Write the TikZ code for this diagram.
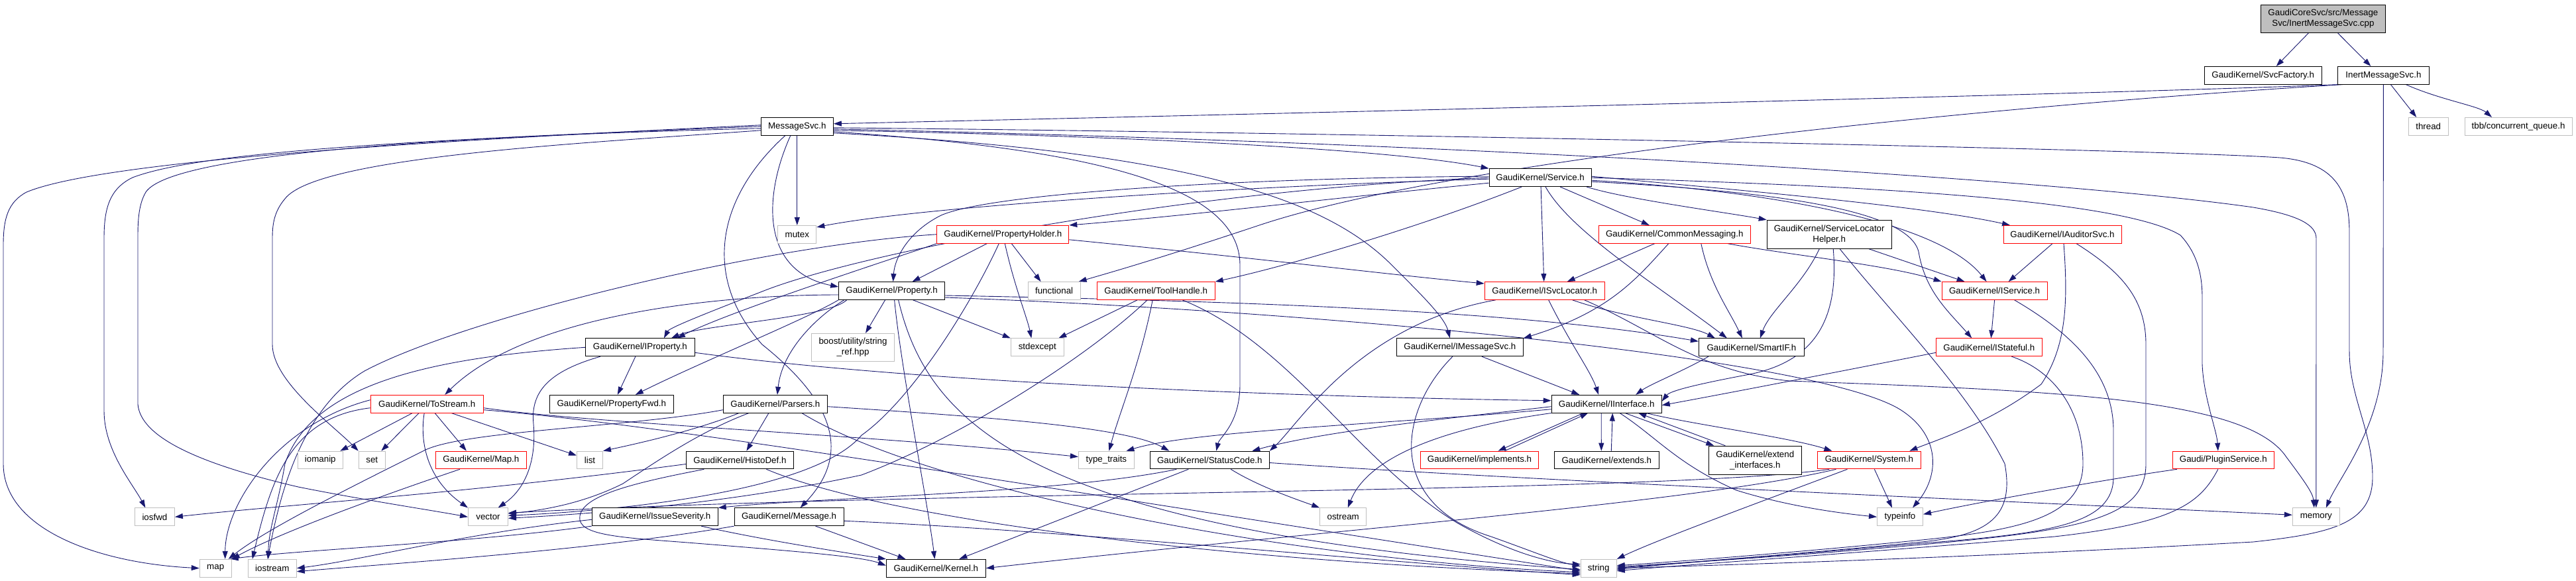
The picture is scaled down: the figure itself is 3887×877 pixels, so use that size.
\documentclass[tikz,border=0pt]{standalone}
\usepackage{fontspec}
\newfontfamily\gfont{Liberation Sans}
\usetikzlibrary{arrows.meta}
\pgfdeclarelayer{bg}
\pgfsetlayers{bg,main}
\definecolor{edgec}{HTML}{191970}
\definecolor{boxgray}{HTML}{BFBFBF}
\definecolor{boxred}{HTML}{FF0000}
\begin{document}
\begin{tikzpicture}[x=1pt,y=-1pt,
 nb/.style={rectangle, draw=black, line width=1pt, inner sep=0pt, minimum height=26.7pt, align=center, fill=white, font=\gfont\fontsize{13.33}{16}\selectfont},
 nr/.style={nb, draw=boxred},
 ng/.style={nb, draw=boxgray},
 ed/.style={draw=edgec, line width=0.9pt, -{Triangle[length=12pt,width=8pt]}}]
\path[use as bounding box] (0,0) rectangle (3887,877);
% nodes
\node[nb, fill=boxgray, minimum width=188pt, minimum height=42pt] (root) at (3505.4,28.3) {GaudiCoreSvc/src/Message\\Svc/InertMessageSvc.cpp};
\node[nb, minimum width=177pt] (svcf) at (3414.7,113.8) {GaudiKernel/SvcFactory.h};
\node[nb, minimum width=138pt] (inert) at (3596.4,113.8) {InertMessageSvc.h};
\node[ng, minimum width=60pt] (thread) at (3664.2,190.8) {thread};
\node[ng, minimum width=162pt] (tbb) at (3800,190.8) {tbb/concurrent\_queue.h};
\node[nb, minimum width=109pt] (msgsvc) at (1202.8,190.8) {MessageSvc.h};
\node[ng, minimum width=58pt] (mutex) at (1202.8,353.8) {mutex};
\node[nb, minimum width=154pt] (service) at (2324.1,268.2) {GaudiKernel/Service.h};
\node[nr, minimum width=199pt] (propholder) at (1513.3,353.8) {GaudiKernel/PropertyHolder.h};
\node[nr, minimum width=229pt] (commsg) at (2526.8,353.8) {GaudiKernel/CommonMessaging.h};
\node[nb, minimum width=188pt, minimum height=43pt] (slh) at (2760.2,353.8) {GaudiKernel/ServiceLocator\\Helper.h};
\node[nr, minimum width=178pt] (iaud) at (3112,353.8) {GaudiKernel/IAuditorSvc.h};
\node[nb, minimum width=160pt] (property) at (1345.6,439) {GaudiKernel/Property.h};
\node[ng, minimum width=79pt] (functional) at (1590.6,439) {functional};
\node[nr, minimum width=178pt] (toolhandle) at (1744.2,439) {GaudiKernel/ToolHandle.h};
\node[nr, minimum width=181pt] (isvcloc) at (2330.7,439) {GaudiKernel/ISvcLocator.h};
\node[nr, minimum width=159pt] (iservice) at (3009.6,439) {GaudiKernel/IService.h};
\node[nb, minimum width=165pt] (iproperty) at (965.9,524.3) {GaudiKernel/IProperty.h};
\node[ng, minimum width=125pt, minimum height=42pt] (boost) at (1287,524.3) {boost/utility/string\\\_ref.hpp};
\node[ng, minimum width=80pt] (stdexcept) at (1565.3,524.3) {stdexcept};
\node[nb, minimum width=191pt] (imsgsvc) at (2202.9,524.3) {GaudiKernel/IMessageSvc.h};
\node[nb, minimum width=159pt] (smartif) at (2642.9,524.3) {GaudiKernel/SmartIF.h};
\node[nr, minimum width=160pt] (istateful) at (3001.3,524.3) {GaudiKernel/IStateful.h};
\node[nr, minimum width=170pt] (tostream) at (644.2,609.7) {GaudiKernel/ToStream.h};
\node[nb, minimum width=187pt] (propfwd) at (922.8,609.7) {GaudiKernel/PropertyFwd.h};
\node[nb, minimum width=157pt] (parsers) at (1169.9,609.7) {GaudiKernel/Parsers.h};
\node[nb, minimum width=166pt] (iinterface) at (2424.2,609.7) {GaudiKernel/IInterface.h};
\node[ng, minimum width=68pt] (iomanip) at (483.3,694.5) {iomanip};
\node[ng, minimum width=40pt] (set) at (561.3,694.5) {set};
\node[nr, minimum width=137pt] (maph) at (725.9,694.5) {GaudiKernel/Map.h};
\node[ng, minimum width=39pt] (list) at (890,694.5) {list};
\node[nb, minimum width=162pt] (histodef) at (1116.4,694.5) {GaudiKernel/HistoDef.h};
\node[ng, minimum width=84pt] (typetraits) at (1669.4,694.5) {type\_traits};
\node[nb, minimum width=180pt] (statuscode) at (1825.3,694.5) {GaudiKernel/StatusCode.h};
\node[nr, minimum width=178pt] (implements) at (2232.5,694.5) {GaudiKernel/implements.h};
\node[nb, minimum width=158pt] (extends) at (2424.3,694.5) {GaudiKernel/extends.h};
\node[nb, minimum width=140pt, minimum height=43pt] (extif) at (2648.3,694.7) {GaudiKernel/extend\\\_interfaces.h};
\node[nr, minimum width=156pt] (system) at (2820.4,694.5) {GaudiKernel/System.h};
\node[nr, minimum width=153pt] (plugin) at (3354.8,694.5) {Gaudi/PluginService.h};
\node[ng, minimum width=60pt] (iosfwd) at (233.4,780.3) {iosfwd};
\node[ng, minimum width=60pt] (vector) at (736.5,780.3) {vector};
\node[nb, minimum width=190pt] (issev) at (988.2,780.3) {GaudiKernel/IssueSeverity.h};
\node[nb, minimum width=165pt] (message) at (1190.6,780.3) {GaudiKernel/Message.h};
\node[ng, minimum width=70pt] (ostream) at (2026.7,780.3) {ostream};
\node[ng, minimum width=69pt] (typeinfo) at (2867,780.3) {typeinfo};
\node[ng, minimum width=71pt] (memory) at (3494.8,780.3) {memory};
\node[ng, minimum width=48pt] (map) at (325.2,857.7) {map};
\node[ng, minimum width=73pt] (iostream) at (410.8,857.7) {iostream};
\node[nb, minimum width=150pt] (kernel) at (1412.4,857.7) {GaudiKernel/Kernel.h};
\node[ng, minimum width=54pt] (string) at (2412.2,857.7) {string};
\begin{pgfonlayer}{bg}
% root
\draw[ed] ([xshift=-22pt]root.south) -- ([xshift=20pt]svcf.north);
\draw[ed] ([xshift=22pt]root.south) -- ([xshift=-19pt]inert.north);
% inert
\draw[ed] (inert.south west) .. controls (3200,141) and (2000,170) .. ([yshift=4pt]msgsvc.east);
\draw[ed] ([xshift=11pt]inert.south) -- ([xshift=-18pt]thread.north);
\draw[ed] ([xshift=34pt]inert.south) .. controls (3680,150) and (3740,160) .. ([xshift=-40pt]tbb.north);
\draw[ed] (inert.south) -- (3596,530) .. controls (3596,640) and (3530,720) .. ([xshift=15pt]memory.north);
\draw[ed] ([xshift=8pt]inert.south west) .. controls (3000,160) and (2200,240) .. (1900,340) .. controls (1750,390) and (1680,410) .. ([xshift=-3pt]functional.north east);
% MessageSvc
\draw[ed] (msgsvc.south) -- (mutex.north);
\draw[ed] ([yshift=-6pt]msgsvc.east) .. controls (1700,205) and (2100,225) .. (service.north west);
\draw[ed] ([xshift=-10pt]msgsvc.south) .. controls (1150,300) and (1150,410) .. ([yshift=6pt]property.west);
\draw[ed] ([yshift=-10pt]msgsvc.east) .. controls (1800,230) and (2000,300) .. (2100,400) .. controls (2150,450) and (2180,480) .. ([xshift=-15pt]imsgsvc.north);
\draw[ed] ([yshift=-8pt]msgsvc.east) .. controls (1650,225) and (1871,280) .. (1871,400) -- (1871,580) .. controls (1871,640) and (1840,660) .. ([xshift=10pt]statuscode.north);
\draw[ed] ([xshift=-18pt]msgsvc.south) .. controls (1080,300) and (1060,420) .. (1150,520) .. controls (1250,600) and (1290,680) .. ([xshift=17pt]message.north);
\draw[ed] ([yshift=2pt]msgsvc.west) .. controls (700,210) and (160,240) .. (40,290) .. controls (12,305) and (5,330) .. (5,370) -- (5,700) .. controls (5,800) and (150,850) .. (map.west);
\draw[ed] (msgsvc.west) .. controls (600,212) and (300,230) .. (200,268) .. controls (165,285) and (157,315) .. (157,360) -- (157,620) .. controls (157,680) and (200,730) .. ([xshift=-14pt]iosfwd.north);
\draw[ed] ([yshift=-3pt]msgsvc.west) .. controls (700,205) and (260,230) .. (220,290) .. controls (208,310) and (208,340) .. (208,360) -- (208,610) .. controls (212,660) and (300,700) .. (450,735) .. controls (550,755) and (650,770) .. (vector.west);
\draw[ed] ([yshift=-6pt]msgsvc.west) .. controls (900,215) and (480,235) .. (430,300) .. controls (413,320) and (411,340) .. (411,360) -- (411,520) .. controls (411,575) and (500,640) .. (set.north west);
\draw[ed] ([yshift=-2pt]msgsvc.east) .. controls (2000,200) and (3250,225) .. (3440,238) .. controls (3525,245) and (3545,290) .. (3545,350) -- (3545,530) .. controls (3545,600) and (3580,650) .. (3580,720) .. controls (3580,790) and (3520,805) .. (3400,818) .. controls (3000,840) and (2700,850) .. (string.east);
\draw[ed] ([yshift=-4pt]msgsvc.east) .. controls (2200,215) and (3100,270) .. (3400,313) .. controls (3470,325) and (3495,340) .. (3495,360) -- (memory.north);
% Service
\draw[ed] ([yshift=-2pt]service.west) .. controls (1900,280) and (1400,310) .. ([yshift=-3pt]mutex.north east);
\draw[ed] ([yshift=-8pt]service.west) .. controls (2000,300) and (1800,325) .. (propholder.north east);
\draw[ed] ([yshift=2pt]service.west) .. controls (1900,268) and (1500,290) .. (1420,325) .. controls (1370,350) and (1350,390) .. ([xshift=2pt]property.north);
\draw[ed] (service.west) .. controls (1800,285) and (1300,380) .. (1150,440) .. controls (1060,475) and (1010,495) .. ([xshift=36pt]iproperty.north);
\draw[ed] ([xshift=-28pt]service.south) .. controls (2150,340) and (1950,400) .. (toolhandle.north east);
\draw[ed] ([xshift=1pt]service.south) -- ([xshift=-1pt]isvcloc.north);
\draw[ed] ([xshift=30pt]service.south) -- ([xshift=-38pt]commsg.north);
\draw[ed] ([xshift=70pt]service.south) .. controls (2450,300) and (2600,320) .. (slh.north west);
\draw[ed] ([yshift=2pt]service.east) .. controls (2600,285) and (2900,310) .. ([xshift=-79pt]iaud.north);
\draw[ed] (service.east) .. controls (2800,280) and (3200,300) .. (3290,355) .. controls (3318,385) and (3323,420) .. (3323,450) -- (3323,550) .. controls (3325,600) and (3345,650) .. ([xshift=-8pt]plugin.north);
\draw[ed] ([yshift=-4pt]service.east) .. controls (2700,290) and (2930,340) .. ([xshift=-12pt]iservice.north);
\draw[ed] ([yshift=-6pt]service.east) .. controls (2700,290) and (2880,320) .. (2895,380) .. controls (2905,440) and (2940,470) .. ([xshift=-26pt]istateful.north);
\draw[ed] ([xshift=8pt]service.south) .. controls (2370,350) and (2500,430) .. ([xshift=-37pt]smartif.north);
% PropertyHolder
\draw[ed] ([xshift=-24pt]propholder.south) -- ([xshift=31pt]property.north);
\draw[ed] (propholder.south west) .. controls (1350,390) and (1100,470) .. ([xshift=56pt]iproperty.north);
\draw[ed] ([xshift=13pt]propholder.south) -- ([xshift=-20pt]functional.north);
\draw[ed] ([xshift=3pt]propholder.south) .. controls (1530,430) and (1550,480) .. ([xshift=-9pt]stdexcept.north);
\draw[ed] ([yshift=-8pt]propholder.east) .. controls (1900,390) and (2100,415) .. ([yshift=11pt]isvcloc.west);
\draw[ed] ([xshift=-6pt]propholder.south) .. controls (1470,450) and (1380,600) .. (1300,657) .. controls (1230,740) and (950,770) .. ([yshift=2pt]vector.east);
\draw[ed] (propholder.west) .. controls (1150,370) and (700,480) .. (550,560) .. controls (450,620) and (420,760) .. ([xshift=-7pt]iostream.north);
% Property
\draw[ed] ([xshift=-68pt]property.south) .. controls (1250,480) and (1060,490) .. ([xshift=47pt]iproperty.north);
\draw[ed] (property.south west) .. controls (1220,480) and (1050,550) .. ([xshift=36pt]propfwd.north);
\draw[ed] ([yshift=-6pt]property.west) .. controls (1100,445) and (800,470) .. ([xshift=27pt]tostream.north);
\draw[ed] ([xshift=-72pt]property.south) .. controls (1230,480) and (1180,530) .. ([xshift=3pt]parsers.north);
\draw[ed] ([xshift=-10pt]property.south) -- ([xshift=19pt]boost.north);
\draw[ed] ([xshift=4pt]property.south) .. controls (1360,560) and (1400,760) .. ([xshift=-2pt]kernel.north);
\draw[ed] ([xshift=10pt]property.south) .. controls (1400,640) and (1550,800) .. ([yshift=-2pt]string.west);
\draw[ed] ([xshift=32pt]property.south) -- (stdexcept.north west);
\draw[ed] ([yshift=-7pt]property.east) .. controls (1900,455) and (2300,470) .. ([yshift=9pt]smartif.west);
\draw[ed] ([yshift=-10pt]property.east) .. controls (2000,470) and (2750,540) .. (2870,620) .. controls (2930,660) and (2925,720) .. ([xshift=19pt]typeinfo.north);
% ToolHandle
\draw[ed] ([xshift=-28pt]toolhandle.south) -- ([xshift=32pt]stdexcept.north);
\draw[ed] ([xshift=-5pt]toolhandle.south) .. controls (1720,550) and (1690,620) .. ([xshift=4pt]typetraits.north);
\draw[ed] ([xshift=-13pt]toolhandle.south) .. controls (1640,540) and (1450,660) .. (1300,717) .. controls (1100,760) and (900,775) .. ([yshift=-2pt]vector.east);
\draw[ed] ([xshift=40pt]toolhandle.south) .. controls (1950,520) and (2050,700) .. (2200,790) .. controls (2280,835) and (2340,850) .. ([yshift=6pt]string.west);
% IProperty
\draw[ed] ([xshift=-7pt]iproperty.south) -- ([xshift=9pt]propfwd.north);
\draw[ed] ([yshift=-8pt]iproperty.east) .. controls (1400,580) and (2000,600) .. ([yshift=5pt]iinterface.west);
\draw[ed] ([xshift=-60pt]iproperty.south) .. controls (830,560) and (800,590) .. (805,640) .. controls (810,700) and (790,740) .. ([xshift=15pt]vector.north);
\draw[ed] (iproperty.west) .. controls (650,540) and (470,580) .. (430,700) .. controls (420,760) and (405,800) .. ([xshift=-6pt]iostream.north);
% ToStream
\draw[ed] ([xshift=-22pt]tostream.south) -- ([xshift=30pt]iomanip.north);
\draw[ed] ([xshift=-12pt]tostream.south) -- ([xshift=14pt]set.north);
\draw[ed] ([xshift=12pt]tostream.south) -- ([xshift=-22pt]maph.north);
\draw[ed] ([xshift=37pt]tostream.south) -- ([yshift=7pt]list.west);
\draw[ed] ([yshift=6pt]tostream.west) .. controls (420,640) and (340,760) .. ([xshift=-10pt]map.north east);
\draw[ed] ([yshift=-6pt]tostream.west) .. controls (440,630) and (410,720) .. ([xshift=-30pt]iostream.north);
\draw[ed] ([xshift=-4pt]tostream.south) .. controls (634,660) and (640,720) .. (vector.north west);
\draw[ed] ([yshift=-6pt]tostream.east) .. controls (900,640) and (1300,655) .. ([yshift=5pt]typetraits.west);
\draw[ed] ([yshift=-9pt]tostream.east) .. controls (1000,640) and (1600,740) .. ([yshift=-4pt]string.west);
% Map.h
\draw[ed] ([xshift=-32pt]maph.south) .. controls (600,740) and (430,800) .. (map.north east);
% Parsers
\draw[ed] ([xshift=-10pt]parsers.south) -- ([xshift=10pt]histodef.north);
\draw[ed] ([xshift=-55pt]parsers.south) .. controls (1050,650) and (960,670) .. (list.north east);
\draw[ed] ([xshift=-40pt]parsers.south) .. controls (1060,650) and (1000,690) .. (940,730) .. controls (880,760) and (820,770) .. ([yshift=5pt]vector.east);
\draw[ed] ([yshift=-4pt]parsers.east) .. controls (1500,630) and (1700,645) .. ([xshift=-61pt]statuscode.north);
\draw[ed] ([xshift=40pt]parsers.south) .. controls (1400,740) and (1950,845) .. ([yshift=-6pt]string.west);
\draw[ed] ([yshift=-9pt]parsers.west) .. controls (950,645) and (700,650) .. (640,680) .. controls (520,740) and (400,800) .. ([xshift=-5pt]map.north east);
% HistoDef
\draw[ed] ([yshift=-6pt]histodef.west) .. controls (700,745) and (450,760) .. (iosfwd.east);
\draw[ed] ([xshift=40pt]histodef.south) .. controls (1350,790) and (1900,850) .. ([yshift=-8pt]string.west);
\draw[ed] ([xshift=-54pt]histodef.south) .. controls (950,730) and (870,750) .. (875,785) .. controls (880,810) and (950,812) .. (1050,820) .. controls (1200,832) and (1300,840) .. ([yshift=4pt]kernel.west);
% IssueSeverity
\draw[ed] ([yshift=-4pt]issev.west) .. controls (700,805) and (550,845) .. (iostream.east);
\draw[ed] (issev.south west) .. controls (700,820) and (450,830) .. ([xshift=-2pt]map.north east);
\draw[ed] ([xshift=70pt]issev.south) .. controls (1150,815) and (1280,835) .. (kernel.north west);
% Message
\draw[ed] ([xshift=40pt]message.south) -- ([xshift=-46pt]kernel.north);
\draw[ed] (message.south west) .. controls (900,830) and (600,850) .. ([yshift=-5pt]iostream.east);
\draw[ed] ([yshift=-6pt]message.east) .. controls (1600,800) and (2100,850) .. ([yshift=-10pt]string.west);
% StatusCode
\draw[ed] ([xshift=-50pt]statuscode.south) .. controls (1600,745) and (1250,750) .. (issev.north east);
\draw[ed] ([xshift=-32pt]statuscode.south) -- ([xshift=35pt]kernel.north);
\draw[ed] ([xshift=32pt]statuscode.south) .. controls (1900,735) and (1960,755) .. (ostream.north west);
\draw[ed] ([yshift=-4pt]statuscode.east) .. controls (2300,725) and (3100,760) .. ([yshift=3pt]memory.west);
% IMessageSvc
\draw[ed] ([xshift=33pt]imsgsvc.south) -- ([xshift=-41pt]iinterface.north);
\draw[ed] ([xshift=-11pt]imsgsvc.south) .. controls (2110,620) and (2090,760) .. (2250,810) .. controls (2320,835) and (2350,848) .. ([yshift=3pt]string.west);
% ISvcLocator
\draw[ed] ([xshift=6pt]isvcloc.south) .. controls (2370,520) and (2400,560) .. ([xshift=-12pt]iinterface.north);
\draw[ed] ([xshift=42pt]isvcloc.south) .. controls (2450,480) and (2550,490) .. ([xshift=-55pt]smartif.north);
\draw[ed] ([xshift=-74pt]isvcloc.south) .. controls (2050,490) and (1960,640) .. (statuscode.north east);
\draw[ed] ([xshift=60pt]isvcloc.south) .. controls (2500,500) and (2560,560) .. (2700,575) .. controls (3100,590) and (3390,600) .. (3450,690) .. controls (3480,730) and (3490,745) .. ([xshift=-3pt]memory.north);
% CommonMessaging
\draw[ed] ([xshift=-30pt]commsg.south) -- ([xshift=34pt]isvcloc.north);
\draw[ed] ([xshift=-9pt]commsg.south) .. controls (2470,420) and (2430,470) .. (imsgsvc.north east);
\draw[ed] ([xshift=80pt]commsg.south) .. controls (2700,385) and (2850,400) .. (iservice.north west);
\draw[ed] ([xshift=40pt]commsg.south) .. controls (2580,430) and (2610,470) .. ([xshift=-14pt]smartif.north);
% ServiceLocatorHelper
\draw[ed] ([xshift=60pt]slh.south) -- ([xshift=-45pt]iservice.north);
\draw[ed] ([xshift=-15pt]slh.south) .. controls (2720,430) and (2670,470) .. ([xshift=13pt]smartif.north);
\draw[ed] ([xshift=6pt]slh.south) .. controls (2775,480) and (2740,545) .. (2640,565) .. controls (2560,580) and (2520,590) .. ([yshift=4pt]iinterface.east);
\draw[ed] ([xshift=16pt]slh.south) .. controls (2860,480) and (2970,590) .. (3025,700) .. controls (3040,780) and (3000,808) .. (2900,818) .. controls (2700,838) and (2500,852) .. (string.east);
% IAuditorSvc
\draw[ed] ([xshift=-15pt]iaud.south) -- ([xshift=21pt]iservice.north);
\draw[ed] ([xshift=2pt]iaud.south) .. controls (3120,450) and (3120,520) .. (3080,580) .. controls (3000,640) and (2920,665) .. ([xshift=61pt]system.north);
\draw[ed] ([xshift=21pt]iaud.south) .. controls (3200,410) and (3238,450) .. (3238,520) -- (3238,700) .. controls (3238,780) and (3150,800) .. (2900,822) .. controls (2700,840) and (2500,852) .. ([yshift=2pt]string.east);
% IService
\draw[ed] (iservice.south) -- ([xshift=3pt]istateful.north);
\draw[ed] ([xshift=30pt]iservice.south) .. controls (3120,500) and (3189,560) .. (3189,650) -- (3189,720) .. controls (3189,790) and (3100,805) .. (2900,820) .. controls (2700,838) and (2500,852) .. ([yshift=-2pt]string.east);
% IStateful
\draw[ed] ([yshift=-8pt]istateful.west) .. controls (2780,560) and (2600,595) .. ([yshift=-2pt]iinterface.east);
\draw[ed] ([xshift=34pt]istateful.south) .. controls (3100,560) and (3143,620) .. (3143,700) .. controls (3143,780) and (3050,800) .. (2900,815) .. controls (2700,835) and (2500,850) .. ([yshift=4pt]string.east);
% SmartIF
\draw[ed] ([xshift=-65pt]smartif.south) .. controls (2540,560) and (2490,580) .. ([xshift=44pt]iinterface.north);
% IInterface
\draw[ed] ([xshift=-35pt]iinterface.south) -- ([xshift=28pt]implements.north);
\draw[ed] ([xshift=38pt]implements.north) -- ([xshift=-28pt]iinterface.south);
\draw[ed] ([xshift=-8pt]iinterface.south) -- ([xshift=-8pt]extends.north);
\draw[ed] ([xshift=7pt]extends.north) -- ([xshift=9pt]iinterface.south);
\draw[ed] ([xshift=28pt]iinterface.south) -- ([xshift=-62pt]extif.north);
\draw[ed] ([xshift=-45pt]extif.north) -- ([xshift=48pt]iinterface.south);
\draw[ed] ([xshift=60pt]iinterface.south) .. controls (2550,640) and (2700,660) .. ([xshift=-56pt]system.north);
\draw[ed] (iinterface.south west) .. controls (2150,650) and (2060,700) .. ([xshift=7pt]ostream.north);
\draw[ed] ([yshift=-8pt]iinterface.west) .. controls (2100,640) and (1800,650) .. ([xshift=30pt]typetraits.north);
\draw[ed] ([yshift=-4pt]iinterface.west) .. controls (2200,630) and (2000,650) .. ([xshift=64pt]statuscode.north);
\draw[ed] ([xshift=20pt]iinterface.south) .. controls (2500,660) and (2530,700) .. (2620,740) .. controls (2700,765) and (2780,775) .. (typeinfo.west);
% System
\draw[ed] ([xshift=8pt]system.south) -- ([xshift=-12pt]typeinfo.north);
\draw[ed] ([xshift=-33pt]system.south) .. controls (2650,760) and (2500,815) .. (string.north east);
\draw[ed] ([xshift=-50pt]system.south) .. controls (2550,760) and (2000,800) .. (kernel.east);
\draw[ed] ([xshift=-60pt]system.south) .. controls (2500,745) and (1400,740) .. ([yshift=6pt]vector.east);
% PluginService
\draw[ed] ([xshift=-70pt]plugin.south) .. controls (3200,720) and (3000,755) .. ([yshift=4pt]typeinfo.east);
\draw[ed] ([xshift=-8pt]plugin.south) .. controls (3320,760) and (3280,790) .. (3100,810) .. controls (2800,835) and (2550,852) .. ([yshift=-4pt]string.east);
\end{pgfonlayer}
\end{tikzpicture}
\end{document}
